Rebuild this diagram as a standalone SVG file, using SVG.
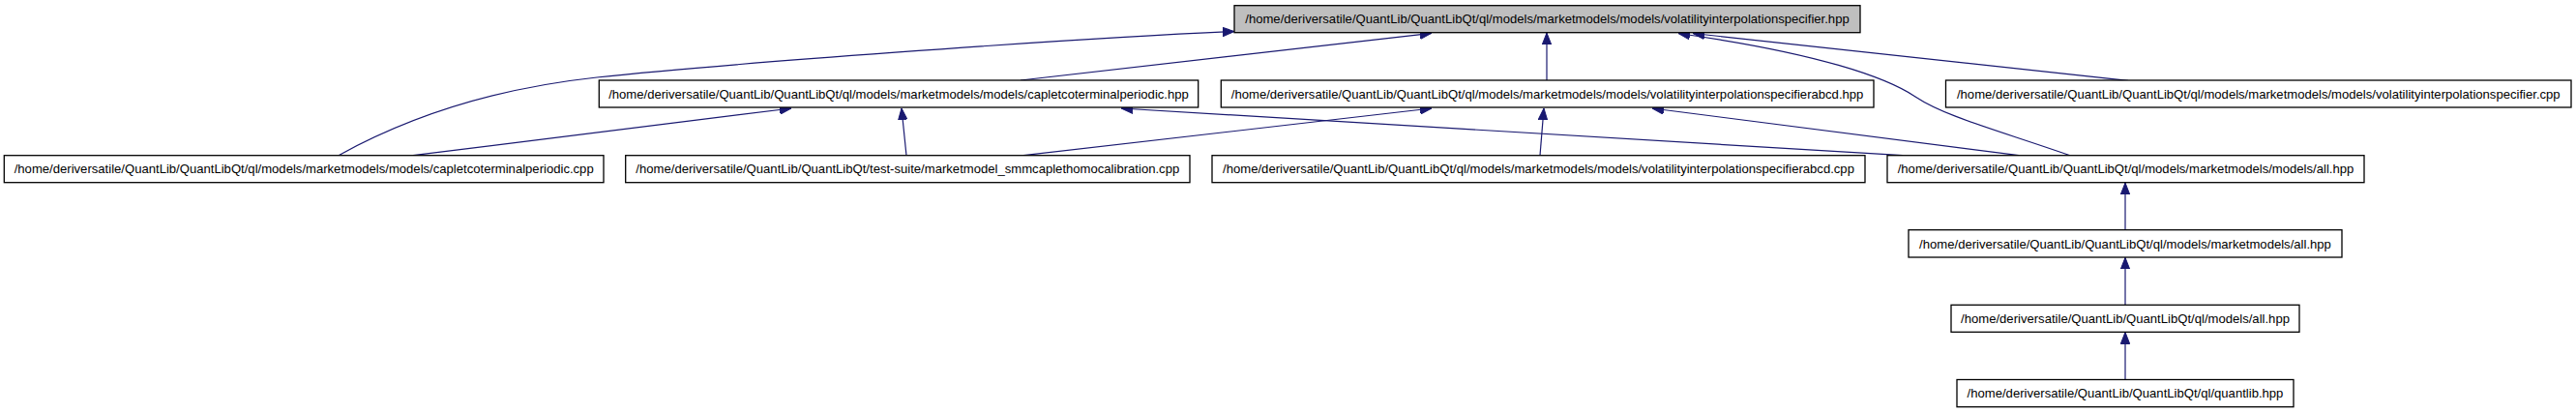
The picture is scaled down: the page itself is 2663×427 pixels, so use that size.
<svg xmlns="http://www.w3.org/2000/svg" width="2663" height="427" viewBox="0 0 2663 427">
<style>
.box{fill:#ffffff;stroke:#000000;stroke-width:1.3}
.root{fill:#bfbfbf;stroke:#000000;stroke-width:1.3}
.t{font-family:"Liberation Sans",Arial,sans-serif;font-size:13.1px;fill:#000000;text-anchor:middle}
.e{fill:none;stroke:#191970;stroke-width:1.2}
</style>
<defs>
<marker id="ah" markerUnits="userSpaceOnUse" viewBox="0 0 12 10" refX="12" refY="5" markerWidth="12" markerHeight="10" orient="auto">
<path d="M0,0.3 L12,5 L0,9.7 Z" fill="#191970" stroke="#191970" stroke-width="1"/>
</marker>
</defs>
<rect width="2663" height="427" fill="#ffffff"/>
<g id="connectors">
<path class="e" marker-end="url(#ah)" d="M350,160.7 C411,127 497,93 617,80 C737,67 1100,40 1276,32.5"/>
<path class="e" marker-end="url(#ah)" d="M1055,83 L1480,34.3"/>
<path class="e" marker-end="url(#ah)" d="M1599,83 L1599,34"/>
<path class="e" marker-end="url(#ah)" d="M2200,83.3 L1750,34.5"/>
<path class="e" marker-end="url(#ah)" d="M2140,160.7 C2060,133 2010,120 1980,100 C1950,80 1880,55 1735,34.5"/>
<path class="e" marker-end="url(#ah)" d="M427,160.7 L818,112"/>
<path class="e" marker-end="url(#ah)" d="M937,160.7 L932,112"/>
<path class="e" marker-end="url(#ah)" d="M1967,160.7 L1159,112"/>
<path class="e" marker-end="url(#ah)" d="M1058,160.7 L1480,112"/>
<path class="e" marker-end="url(#ah)" d="M1592,160.7 L1596,112"/>
<path class="e" marker-end="url(#ah)" d="M2087,160.7 L1708,112"/>
<path class="e" marker-end="url(#ah)" d="M2197,237.7 L2197,189"/>
<path class="e" marker-end="url(#ah)" d="M2197,315.3 L2197,266.3"/>
<path class="e" marker-end="url(#ah)" d="M2197,392.5 L2197,343.5"/>
</g>
<g id="node0">
<rect class="root" x="1276" y="5.7" width="647" height="28"/>
<text class="t" x="1599.5" y="24.4">/home/deriversatile/QuantLib/QuantLibQt/ql/models/marketmodels/models/volatilityinterpolationspecifier.hpp</text>
</g>
<g id="node1">
<rect class="box" x="619.3" y="83" width="619.4" height="28"/>
<text class="t" x="929" y="101.7">/home/deriversatile/QuantLib/QuantLibQt/ql/models/marketmodels/models/capletcoterminalperiodic.hpp</text>
</g>
<g id="node2">
<rect class="box" x="1262.3" y="83" width="674.7" height="28"/>
<text class="t" x="1599.6" y="101.7">/home/deriversatile/QuantLib/QuantLibQt/ql/models/marketmodels/models/volatilityinterpolationspecifierabcd.hpp</text>
</g>
<g id="node3">
<rect class="box" x="2011.5" y="83" width="646.5" height="28"/>
<text class="t" x="2334.8" y="101.7">/home/deriversatile/QuantLib/QuantLibQt/ql/models/marketmodels/models/volatilityinterpolationspecifier.cpp</text>
</g>
<g id="node4">
<rect class="box" x="4.3" y="160.7" width="619.7" height="28"/>
<text class="t" x="314.2" y="179.4">/home/deriversatile/QuantLib/QuantLibQt/ql/models/marketmodels/models/capletcoterminalperiodic.cpp</text>
</g>
<g id="node5">
<rect class="box" x="646.7" y="160.7" width="583.3" height="28"/>
<text class="t" x="938.3" y="179.4">/home/deriversatile/QuantLib/QuantLibQt/test-suite/marketmodel_smmcaplethomocalibration.cpp</text>
</g>
<g id="node6">
<rect class="box" x="1253" y="160.7" width="675" height="28"/>
<text class="t" x="1590.5" y="179.4">/home/deriversatile/QuantLib/QuantLibQt/ql/models/marketmodels/models/volatilityinterpolationspecifierabcd.cpp</text>
</g>
<g id="node7">
<rect class="box" x="1951" y="160.7" width="493" height="28"/>
<text class="t" x="2197.5" y="179.4">/home/deriversatile/QuantLib/QuantLibQt/ql/models/marketmodels/models/all.hpp</text>
</g>
<g id="node8">
<rect class="box" x="1973" y="237.7" width="448" height="28.3"/>
<text class="t" x="2197" y="256.5">/home/deriversatile/QuantLib/QuantLibQt/ql/models/marketmodels/all.hpp</text>
</g>
<g id="node9">
<rect class="box" x="2017" y="315.3" width="360" height="28"/>
<text class="t" x="2197" y="334">/home/deriversatile/QuantLib/QuantLibQt/ql/models/all.hpp</text>
</g>
<g id="node10">
<rect class="box" x="2023" y="392.5" width="348" height="28.2"/>
<text class="t" x="2197" y="411.3">/home/deriversatile/QuantLib/QuantLibQt/ql/quantlib.hpp</text>
</g>
</svg>
